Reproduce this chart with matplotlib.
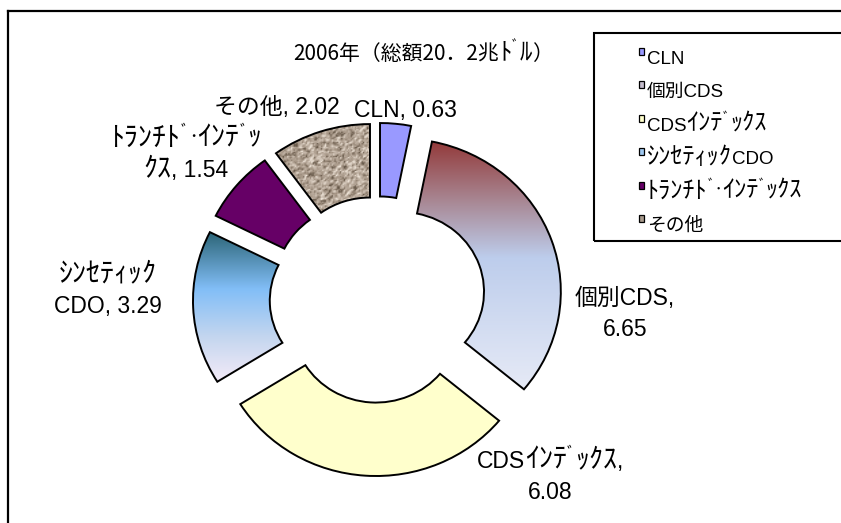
import numpy as np
import matplotlib.pyplot as plt
from matplotlib.colors import LinearSegmentedColormap
from matplotlib.patches import Rectangle
from matplotlib.lines import Line2D

plt.rcParams['font.family'] = ['Liberation Sans', 'Noto Sans CJK JP', 'DejaVu Sans']

# data
names = ['CLN', '個別CDS', 'CDSｲﾝﾃﾞｯｸｽ', 'ｼﾝｾﾃｨｯｸCDO', 'ﾄﾗﾝﾁﾄﾞ･ｲﾝﾃﾞｯｸｽ', 'その他']
values = [0.63, 6.65, 6.08, 3.29, 1.54, 2.02]
title = '2006年（総額20．2兆ﾄﾞﾙ）'

# where the data labels wrap (char index, 0 = no wrap)
wraps = [0, 6, 11, 7, 12, 0]
# label centres in pixels (x from left, y from top)
label_px = [(405, 109), (625, 312), (550, 475), (108, 289), (186, 153), (277, 106)]

W, H = 841, 523
cx, cy = 377.6, 299.5      # donut centre, px
sx, sy = 160.0, 153.0      # px per unit radius (slightly stretched)


def fx(x):
    return x / W


def fy(y):
    return 1 - y / H


fig = plt.figure(figsize=(W / 100, H / 100), dpi=100)
ax = fig.add_axes([0, 0, 1, 1])
renderer = fig.canvas.get_renderer()

solid = ['#9999ff', 'none', '#ffffcc', 'none', '#660066', 'none']
wedges, _ = ax.pie(values, explode=[0.154] * len(values), startangle=90,
                   counterclock=False, colors=solid, radius=1.0,
                   wedgeprops=dict(width=0.48, edgecolor='black', linewidth=1.4))
for w in wedges:
    w.set_zorder(3)


def fill_gradient(wedge, stops):
    bb = wedge.get_path().get_extents()
    cmap = LinearSegmentedColormap.from_list('g', stops)
    grad = np.linspace(0, 1, 256).reshape(-1, 1)
    im = ax.imshow(grad, cmap=cmap, aspect='auto', interpolation='bilinear',
                   extent=(bb.x0, bb.x1, bb.y0, bb.y1), origin='upper', zorder=2)
    im.set_clip_path(wedge)


fill_gradient(wedges[1], [(0, '#933a3a'), (0.25, '#a98a97'), (0.47, '#bdcdec'), (1, '#e6eaf6')])
fill_gradient(wedges[3], [(0, '#2c6577'), (0.38, '#82bef7'), (0.7, '#c4d6ef'), (1, '#f4ebf8')])

# granite texture for "その他"
bb = wedges[5].get_path().get_extents()
rng = np.random.default_rng(7)
noise = rng.normal(0, 1, (70, 70))
noise = (noise + np.roll(noise, 1, 0) + np.roll(noise, 1, 1)) / 3
tex = LinearSegmentedColormap.from_list('t', ['#655748', '#a49484', '#c2b4a6', '#ece2d6'])
im = ax.imshow(noise, cmap=tex, vmin=-1.2, vmax=1.2, aspect='auto', interpolation='bilinear',
               extent=(bb.x0, bb.x1, bb.y0, bb.y1), zorder=2)
im.set_clip_path(wedges[5])

ax.set_xlim(-cx / sx, (W - cx) / sx)
ax.set_ylim(-(H - cy) / sy, cy / sy)
ax.set_aspect('auto')
ax.axis('off')

# sound marks and the middle dot: drawn smaller (narrower cell), lifted by a
# fraction of the em so they stay where the full-size glyph would sit
NARROW = {'ﾞ': 0.32, 'ﾟ': 0.32, '･': 0.14}
SMALL = 0.6


# half-width katakana in Noto are small, so they get drawn a bit larger
def runs(s):
    out = []
    for ch in s:
        k = 0xFF61 <= ord(ch) <= 0xFF9F
        if out and out[-1][1] == k and ch not in NARROW and out[-1][0][-1] not in NARROW:
            out[-1][0] += ch
        else:
            out.append([ch, k])
    return out


def rich_text(x, y, s, size, kana, ha='center', line_h=31, family=None):
    lines = s.split('\n')
    y0 = y - (len(lines) - 1) * line_h / 2
    for i, line in enumerate(lines):
        parts = []
        for t, k in runs(line):
            kw = {'family': family} if family else {}
            fs = size * (kana if k else 1)
            lift = 0
            if t in NARROW:
                lift = NARROW[t] * fs * 100 / 72
                fs *= SMALL
            obj = fig.text(0, 0, t, fontsize=fs, ha='left', va='baseline', **kw)
            parts.append((obj, obj.get_window_extent(renderer).width, lift))
        total = sum(w for _, w, _ in parts)
        left = x - total / 2 if ha == 'center' else x
        base = y0 + i * line_h + 0.36 * size * 100 / 72
        for obj, w, lift in parts:
            obj.set_position((fx(left), fy(base - lift)))
            left += w


# data labels
for name, v, brk, (lx, ly) in zip(names, values, wraps, label_px):
    txt = f'{name}, {v:.2f}'
    if brk:
        txt = txt[:brk] + '\n' + txt[brk:].strip()
    rich_text(lx, ly, txt, 16.5, 1.22)

rich_text(423, 52, title, 15, 1.2, family=['Noto Sans CJK JP'])

# outer chart frame (only top and left edges are inside the picture)
fig.add_artist(Line2D([fx(8), fx(8)], [fy(11), 0], transform=fig.transFigure, color='black', lw=1.6))
fig.add_artist(Line2D([fx(8), 1], [fy(11), fy(11)], transform=fig.transFigure, color='black', lw=1.6))

# legend
fig.add_artist(Rectangle((fx(594), fy(240.5)), (W + 10 - 594) / W, (240.5 - 33) / H,
                         transform=fig.transFigure, fill=False, ec='black', lw=1.5))
leg_colors = ['#9999ff', '#c4bccc', '#ffffcc', '#9ec8f0', '#660066', '#a89a8c']
for i, (name, c) in enumerate(zip(names, leg_colors)):
    ry = 57 + i * 33.4
    fig.add_artist(Rectangle((fx(639), fy(ry - 2)), 5 / W, 7 / H, transform=fig.transFigure,
                             fc=c, ec='black', lw=0.9))
    rich_text(647, ry, name, 13.5, 1.3, ha='left')

fig.savefig('out.png', dpi=100)
